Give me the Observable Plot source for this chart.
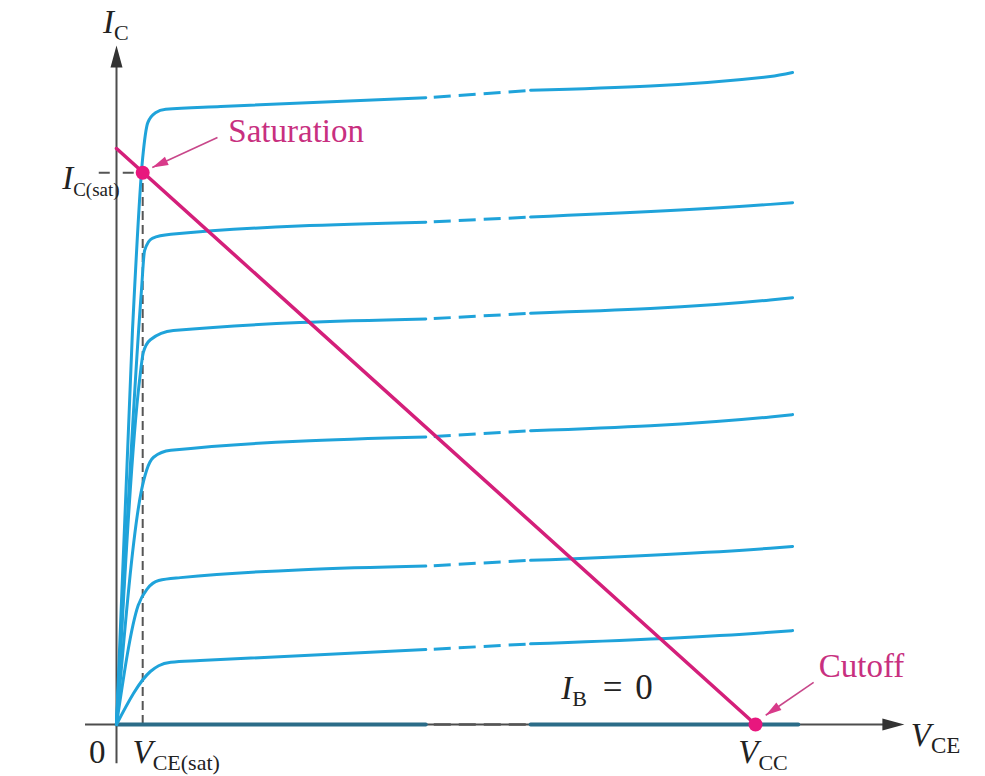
<!DOCTYPE html>
<html><head><meta charset="utf-8">
<script src="https://cdn.jsdelivr.net/npm/d3@7"></script>
<script src="https://cdn.jsdelivr.net/npm/@observablehq/plot@0.6"></script>
<style>body{margin:0;background:#fff;} #chart svg{display:block}</style>
</head><body><div id="chart"></div>
<script>
// ---- data (VCE in units where VCC = 10, IC in units where load-line intercept = 10)
const curveNames = ["IB1", "IB2", "IB3", "IB4", "IB5", "IB6"];
const curveVCE = [
  [0, 0.25, 0.41, 0.49, 0.61, 0.77, 1.63, 4.84, 6.48, 10.23, 10.58],
  [0, 0.39, 0.44, 0.56, 0.85, 4.84, 6.48, 10.23, 10.58],
  [0, 0.36, 0.42, 0.53, 0.89, 4.84, 6.48, 10.23, 10.58],
  [0, 0.39, 0.47, 0.58, 0.85, 4.84, 6.48, 10.23, 10.58],
  [0, 0.34, 0.485, 0.66, 1.0, 4.84, 6.48, 10.23, 10.58],
  [0, 0.53, 0.66, 0.85, 1.31, 4.84, 6.48, 10.23, 10.58]
];
const curveIC = [
  [0, 6.84, 9.84, 10.45, 10.62, 10.68, 10.73, 10.88, 11.01, 11.25, 11.32],
  [0, 7.53, 8.23, 8.44, 8.51, 8.72, 8.81, 9.03, 9.06],
  [0, 5.97, 6.46, 6.68, 6.84, 7.04, 7.14, 7.37, 7.41],
  [0, 4.06, 4.41, 4.64, 4.76, 4.99, 5.10, 5.34, 5.38],
  [0, 2.07, 2.36, 2.50, 2.55, 2.75, 2.85, 3.06, 3.09],
  [0, 0.92, 1.02, 1.08, 1.11, 1.30, 1.40, 1.60, 1.63]
];
const cutoffCurveVCE = [0, 4.84, 6.48, 10.67];   // IB = 0
const cutoffCurveIC = [0, 0, 0, 0];
const breakVCE = [4.84, 6.48];                    // dashed (omitted) region
const loadLineVCE = [0, 10];
const loadLineIC = [10, 0];
const pointNames = ["Saturation", "Cutoff"];
const pointVCE = [0.41, 10];
const pointIC = [9.58, 0];
const pointLabelVCE = [1.75, 10.99];
const pointLabelIC = [10.12, 0.83];
const pointArrowFromVCE = [1.58, 10.91];
const pointArrowFromIC = [10.19, 0.73];
const pointArrowToVCE = [0.56, 10.16];
const pointArrowToIC = [9.67, 0.16];
const xAxisExtent = [-0.485, 12.33];
const yAxisExtent = [-0.68, 11.79];
const mathLabels = ["I|C", "I|C(sat)", "0", "V|CE(sat)", "V|CC", "V|CE", "I|B| = 0"];
const mathLabelVCE = [-0.21, -0.85, -0.43, 0.25, 9.73, 12.43, 6.96];
const mathLabelIC = [12.0, 9.29, -0.66, -0.66, -0.66, -0.38, 0.45];
const mathLabelSubSize = [22, 19, 22, 22, 22, 23, 22];

// ---- scales
const xDomain = [0, 10], xRange = [116, 755];
const yDomain = [0, 10], yRange = [724, 148];
const kx = (xRange[1] - xRange[0]) / (xDomain[1] - xDomain[0]);
const ky = (yRange[1] - yRange[0]) / (yDomain[1] - yDomain[0]);

// ---- build tables
const rows = [];
curveNames.forEach((name, i) => {
  curveVCE[i].forEach((v, j) => rows.push({curve: name, VCE: v, IC: curveIC[i][j]}));
});
const inSeg = (d, seg) => seg === "a" ? d.VCE <= breakVCE[0] : seg === "b" ? (d.VCE >= breakVCE[0] && d.VCE <= breakVCE[1]) : d.VCE >= breakVCE[1];
const segRows = seg => rows.filter(d => inSeg(d, seg));
const ib0 = cutoffCurveVCE.map((v, j) => ({VCE: v, IC: cutoffCurveIC[j]}));
const ib0Seg = seg => ib0.filter(d => inSeg(d, seg));
const load = loadLineVCE.map((v, j) => ({VCE: v, IC: loadLineIC[j]}));
const pts = pointNames.map((n, i) => ({name: n, VCE: pointVCE[i], IC: pointIC[i],
  lx: pointLabelVCE[i], ly: pointLabelIC[i],
  fx: pointArrowFromVCE[i], fy: pointArrowFromIC[i], tx: pointArrowToVCE[i], ty: pointArrowToIC[i]}));
const labels = mathLabels.map((t, i) => ({t, VCE: mathLabelVCE[i], IC: mathLabelIC[i]}));

// arrowhead symbol: tip at origin, pointing along pixel direction
function arrowHead(dxData, dyData, L, W) {
  const px = dxData * kx, py = dyData * ky;
  const n = Math.hypot(px, py), ux = px / n, uy = py / n;
  return {draw(ctx) {
    const bx = -ux * L, by = -uy * L, nx = -uy * W / 2, ny = ux * W / 2;
    ctx.moveTo(0, 0); ctx.lineTo(bx + nx, by + ny); ctx.lineTo(bx - nx, by - ny); ctx.closePath();
  }};
}

const blue = "#1fa3da", teal = "#2b6c88", magenta = "#d41f7a", axisGray = "#4d4d4d";
const dashStyle = {strokeDasharray: "17 8", strokeDashoffset: 17, strokeLinecap: "butt"};

const marks = [
  // axes
  Plot.ruleY([0], {x1: xAxisExtent[0], x2: xAxisExtent[1] - 0.2, stroke: axisGray, strokeWidth: 2}),
  Plot.ruleX([0], {y1: yAxisExtent[0], y2: yAxisExtent[1] - 0.2, stroke: axisGray, strokeWidth: 2}),
  Plot.dot([{VCE: xAxisExtent[1], IC: 0}], {x: "VCE", y: "IC", r: 5, fill: "#333", stroke: "none", symbol: arrowHead(1, 0, 22, 12)}),
  Plot.dot([{VCE: 0, IC: yAxisExtent[1]}], {x: "VCE", y: "IC", r: 5, fill: "#333", stroke: "none", symbol: arrowHead(0, 1, 22, 12)}),
  // dashed guides for the saturation point
  Plot.ruleX([pointVCE[0]], {y1: 0, y2: pointIC[0], stroke: "#555", strokeWidth: 2, strokeDasharray: "9 5"}),
  Plot.ruleY([pointIC[0]], {x1: -0.27, x2: pointVCE[0], stroke: "#555", strokeWidth: 2, strokeDasharray: "11 13"}),
  // IB = 0
  Plot.line(ib0Seg("a"), {x: "VCE", y: "IC", stroke: teal, strokeWidth: 4}),
  Plot.line(ib0Seg("b"), {x: "VCE", y: "IC", stroke: "#555", strokeWidth: 2.5, ...dashStyle}),
  Plot.line(ib0Seg("c"), {x: "VCE", y: "IC", stroke: teal, strokeWidth: 4}),
  // characteristic curves
  Plot.line(segRows("a"), {x: "VCE", y: "IC", z: "curve", stroke: blue, strokeWidth: 3, curve: "monotone-x"}),
  Plot.line(segRows("b"), {x: "VCE", y: "IC", z: "curve", stroke: blue, strokeWidth: 3, ...dashStyle}),
  Plot.line(segRows("c"), {x: "VCE", y: "IC", z: "curve", stroke: blue, strokeWidth: 3, curve: "monotone-x"}),
  // load line
  Plot.line(load, {x: "VCE", y: "IC", stroke: magenta, strokeWidth: 3.5}),
  // callout arrows
  Plot.link(pts, {x1: "fx", y1: "fy", x2: "tx", y2: "ty", stroke: "#c8478a", strokeWidth: 1.6}),
  ...pts.map(p => Plot.dot([p], {x: "tx", y: "ty", r: 5, fill: "#d83a8a", stroke: "none",
    symbol: arrowHead(p.tx - p.fx, p.ty - p.fy, 16, 9)})),
  Plot.dot(pts, {x: "VCE", y: "IC", r: 7, fill: "#e8177e", stroke: "none"}),
  Plot.text(pts, {x: "lx", y: "ly", text: "name", textAnchor: "start", lineAnchor: "bottom", fill: "#c8307f", fontSize: 33}),
  // math labels
  Plot.text(labels, {x: "VCE", y: "IC", text: "t", textAnchor: "start", lineAnchor: "bottom", fill: "#222", fontSize: 33})
];

const chart = Plot.plot({
  width: 985, height: 776,
  x: {domain: xDomain, range: xRange, axis: null},
  y: {domain: yDomain, range: yRange, axis: null},
  style: {background: "white", fontFamily: "'Liberation Serif', 'Times New Roman', serif", overflow: "visible"},
  marks
});

// subscripts: "main|sub|rest"
const NS = "http://www.w3.org/2000/svg";
d3.select(chart).selectAll("text").each(function() {
  const raw = this.textContent;
  const parts = raw.split("|");
  if (parts.length < 2) return;
  const idx = mathLabels.indexOf(raw);
  const subSize = idx >= 0 ? mathLabelSubSize[idx] : 22;
  while (this.firstChild) this.removeChild(this.firstChild);
  const m = document.createElementNS(NS, "tspan");
  m.setAttribute("font-style", "italic"); m.textContent = parts[0]; this.appendChild(m);
  const s = document.createElementNS(NS, "tspan");
  s.setAttribute("font-size", subSize); s.setAttribute("dy", 7); s.textContent = parts[1]; this.appendChild(s);
  if (parts[2]) {
    const r = document.createElementNS(NS, "tspan");
    r.setAttribute("dy", -7); r.setAttribute("dx", 3); r.setAttribute("font-size", 35);
    r.setAttribute("word-spacing", 4); r.textContent = parts[2]; this.appendChild(r);
  }
});
document.getElementById("chart").appendChild(chart);
</script>
</body></html>
